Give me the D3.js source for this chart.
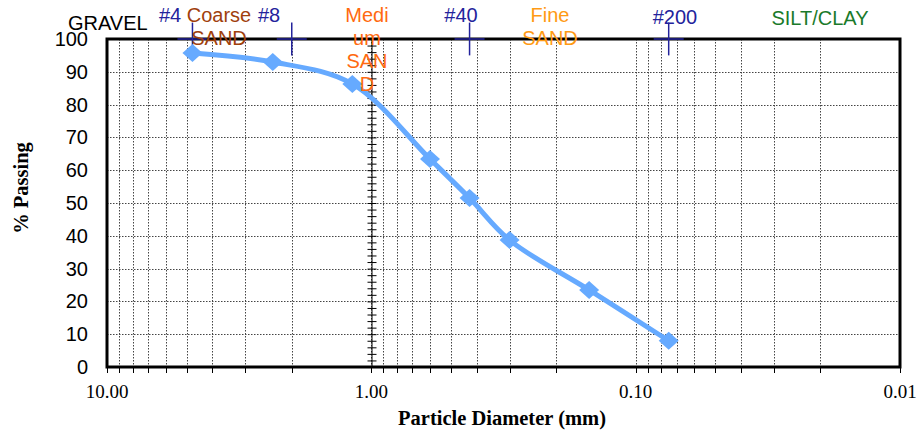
<!DOCTYPE html>
<html>
  <head>
    <meta charset="UTF-8">
    <title>gradation</title>
    <style>
      body { margin: 0; background: #fff; }
      svg text { font-family: Arial, "Liberation Sans", sans-serif; }
      .grid line { stroke: #444; stroke-width: 1px; stroke-dasharray: 1.5,1.5; }
      .tick-label { font-family: "Times New Roman", "Liberation Serif", serif; }
      .axis-title { font-family: "Times New Roman", "Liberation Serif", serif; font-weight: bold; }
    </style>
    <script src="https://d3js.org/d3.v7.min.js"></script>
  </head>
  <body>
    <div class="graph1"></div>
    <script>
      // sieve analysis
      var diameters = [4.75, 2.36, 1.18, 0.6, 0.425, 0.3, 0.15, 0.075];
      var passing   = [95.7, 93.0, 86.3, 63.4, 51.5, 38.7, 23.5, 8.0];

      // sieve markers across the top
      var sieveNames = ["#4", "#8", "#40", "#200"];
      var sieveSizes = [4.75, 2.0, 0.425, 0.075];

      var yTicks = [0, 10, 20, 30, 40, 50, 60, 70, 80, 90, 100];
      var xTickLabels = [10, 1, 0.1, 0.01];

      var width = 917, height = 432;
      var plot = {left: 107, right: 900, top: 39, bottom: 367};

      var svg = d3.select(".graph1").append("svg")
        .attr("width", width)
        .attr("height", height);

      var x = d3.scaleLog().domain([10, 0.01]).range([plot.left, plot.right]);
      var y = d3.scaleLinear().domain([0, 100]).range([plot.bottom, plot.top]);

      // minor log positions
      var logVals = [];
      [0.01, 0.1, 1].forEach(function(d) {
        for (var k = 1; k <= 9; k++) logVals.push(+(k * d).toPrecision(3));
      });
      logVals.push(10);

      // grid
      var grid = svg.append("g").attr("class", "grid");
      grid.selectAll(".v").data(logVals).enter().append("line")
        .attr("x1", function(d) { return Math.round(x(d)) + 0.5; })
        .attr("x2", function(d) { return Math.round(x(d)) + 0.5; })
        .attr("y1", plot.top).attr("y2", plot.bottom);
      grid.selectAll(".h").data(yTicks).enter().append("line")
        .attr("x1", plot.left).attr("x2", plot.right)
        .attr("y1", function(d) { return Math.round(y(d)) + 0.5; })
        .attr("y2", function(d) { return Math.round(y(d)) + 0.5; });

      // bottom minor ticks
      svg.append("g").selectAll("line").data(logVals).enter().append("line")
        .attr("x1", function(d) { return Math.round(x(d)) + 0.5; })
        .attr("x2", function(d) { return Math.round(x(d)) + 0.5; })
        .attr("y1", plot.bottom).attr("y2", plot.bottom + 6)
        .attr("stroke", "#000");

      // secondary axis through 1.00
      var midAxis = d3.axisLeft(y).tickValues(d3.range(0, 101, 2)).tickSize(0).tickFormat("");
      var mid = svg.append("g")
        .attr("transform", "translate(" + (Math.round(x(1)) + 0.5) + ",0)")
        .call(midAxis);
      mid.select(".domain").attr("stroke", "#000");
      mid.selectAll(".tick line").attr("x1", -4).attr("x2", 5).attr("stroke", "#000");

      // y axis labels
      var yAxis = d3.axisLeft(y).tickValues(yTicks).tickSize(0).tickPadding(19);
      var ya = svg.append("g").attr("transform", "translate(" + plot.left + ",0)").call(yAxis);
      ya.select(".domain").remove();
      ya.selectAll("text").attr("font-size", 20).attr("font-family", "Arial, 'Liberation Sans', sans-serif").attr("fill", "#000");

      // x axis labels
      svg.append("g").selectAll("text").data(xTickLabels).enter().append("text")
        .attr("class", "tick-label")
        .attr("x", function(d) { return x(d); })
        .attr("y", 398)
        .attr("text-anchor", "middle")
        .attr("font-size", 19)
        .text(function(d) { return d3.format(".2f")(d); });

      // frame
      svg.append("rect")
        .attr("x", plot.left).attr("y", plot.top)
        .attr("width", plot.right - plot.left).attr("height", plot.bottom - plot.top)
        .attr("fill", "none").attr("stroke", "#000").attr("stroke-width", 3);

      // sieve crosses
      var navy = "#23239c";
      var cross = svg.append("g").selectAll("g").data(sieveSizes).enter().append("g")
        .attr("transform", function(d) { return "translate(" + x(d) + "," + y(100) + ")"; });
      cross.append("line").attr("x1", -15).attr("x2", 15).attr("stroke", navy).attr("stroke-width", 1.5);
      cross.append("line").attr("y1", -y(0) + y(5)).attr("y2", y(0) - y(5)).attr("stroke", navy).attr("stroke-width", 1.5);

      // gradation curve
      var pts = diameters.map(function(d, i) { return [d, passing[i]]; });
      var line = d3.line()
        .x(function(d) { return x(d[0]); })
        .y(function(d) { return y(d[1]); })
        .curve(d3.curveCatmullRom.alpha(0.5));
      var blue = "#66aaff";
      svg.append("path").datum(pts)
        .attr("d", line)
        .attr("fill", "none").attr("stroke", blue).attr("stroke-width", 5);
      svg.append("g").selectAll("path").data(pts).enter().append("path")
        .attr("d", "M0,-9L10,0L0,9L-10,0Z")
        .attr("transform", function(d) { return "translate(" + x(d[0]) + "," + y(d[1]) + ")"; })
        .attr("fill", blue);

      // soil class labels
      var labels = [
        {t: ["GRAVEL"], x: 68, y: 30, a: "start", c: "#000"},
        {t: ["Coarse", "SAND"], x: 219, y: 22, a: "middle", c: "#a0400c"},
        {t: ["Medi", "um", "SAN", "D"], x: 367, y: 22, a: "middle", c: "#ff6a10"},
        {t: ["Fine", "SAND"], x: 550, y: 22, a: "middle", c: "#ff9a14"},
        {t: ["SILT/CLAY"], x: 820, y: 25, a: "middle", c: "#1a7a2a"}
      ];
      labels.forEach(function(l) {
        var t = svg.append("text")
          .attr("x", l.x).attr("y", l.y)
          .attr("text-anchor", l.a).attr("font-size", 20).attr("fill", l.c);
        l.t.forEach(function(s, i) {
          t.append("tspan").attr("x", l.x).attr("dy", i ? 23 : 0).text(s);
        });
      });

      // sieve names
      var nameX = [170, 269, 461, 675];
      svg.append("g").selectAll("text").data(sieveNames).enter().append("text")
        .attr("x", function(d, i) { return nameX[i]; })
        .attr("y", function(d, i) { return i == 3 ? 24 : 22; })
        .attr("text-anchor", "middle")
        .attr("font-size", 20)
        .attr("fill", navy)
        .text(function(d) { return d; });

      // axis titles
      svg.append("text").attr("class", "axis-title")
        .attr("x", 502).attr("y", 425)
        .attr("text-anchor", "middle").attr("font-size", 20.5)
        .text("Particle Diameter (mm)");
      svg.append("text").attr("class", "axis-title")
        .attr("transform", "translate(28,188) rotate(-90)")
        .attr("text-anchor", "middle").attr("font-size", 20.5)
        .text("% Passing");
    </script>
  </body>
</html>
